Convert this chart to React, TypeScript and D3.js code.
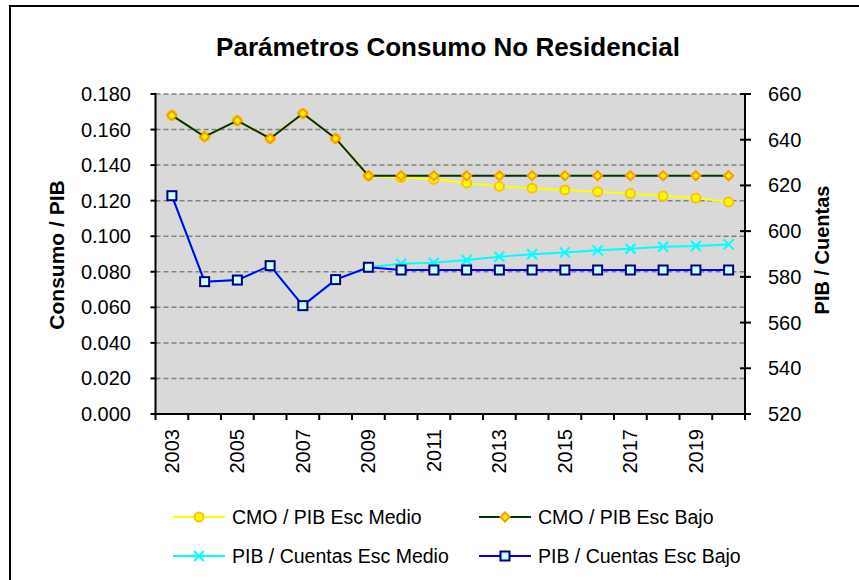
import { useEffect, useRef } from 'react';
import * as d3 from 'd3';

const years = [
  '2003', '2004', '2005', '2006', '2007', '2008', '2009', '2010', '2011',
  '2012', '2013', '2014', '2015', '2016', '2017', '2018', '2019', '2020',
];

// left axis (Consumo / PIB)
const cmoMedio = [
  0.168, 0.156, 0.165, 0.155, 0.169, 0.155, 0.134, 0.133, 0.132,
  0.130, 0.128, 0.127, 0.126, 0.125, 0.124, 0.1226, 0.1215, 0.1193,
];
const cmoBajo = [
  0.168, 0.156, 0.165, 0.155, 0.169, 0.155, 0.134, 0.134, 0.134,
  0.134, 0.134, 0.134, 0.134, 0.134, 0.134, 0.134, 0.134, 0.134,
];

// right axis (PIB / Cuentas)
const cuentasMedio = [
  615.5, 577.9, 578.6, 584.9, 567.4, 578.8, 584.2, 585.7, 586.2,
  587.4, 588.8, 589.9, 590.7, 591.6, 592.3, 593.2, 593.5, 594.2,
];
const cuentasBajo = [
  615.5, 577.9, 578.6, 584.9, 567.4, 578.8, 584.2, 583.0, 583.0,
  583.0, 583.0, 583.0, 583.0, 583.0, 583.0, 583.0, 583.0, 583.0,
];

const leftTicks = [0, 0.02, 0.04, 0.06, 0.08, 0.1, 0.12, 0.14, 0.16, 0.18];
const rightTicks = [520, 540, 560, 580, 600, 620, 640, 660];
const yearLabels = ['2003', '2005', '2007', '2009', '2011', '2013', '2015', '2017', '2019'];

const W = 859;
const H = 580;
const plot = { left: 155.5, right: 745, top: 94, bottom: 414 };
const FONT = '"Liberation Sans", Arial, sans-serif';

type Marker = 'circle' | 'diamond' | 'x' | 'square';

export default function App() {
  const svgRef = useRef<SVGSVGElement>(null);

  useEffect(() => {
    if (!svgRef.current) return;
    const svg = d3.select(svgRef.current);
    svg.selectAll('*').remove();

    // chart frame
    svg.append('rect')
      .attr('x', 10).attr('y', 6)
      .attr('width', W + 20).attr('height', H + 20)
      .attr('fill', '#fff').attr('stroke', '#000').attr('stroke-width', 2);

    const x = d3.scaleBand().domain(years).range([plot.left, plot.right]);
    const yL = d3.scaleLinear().domain([0, 0.18]).range([plot.bottom, plot.top]);
    const yR = d3.scaleLinear().domain([520, 660]).range([plot.bottom, plot.top]);
    const cx = (d: string) => (x(d) ?? 0) + x.bandwidth() / 2;

    // plot background
    svg.append('rect')
      .attr('x', plot.left).attr('y', plot.top)
      .attr('width', plot.right - plot.left).attr('height', plot.bottom - plot.top)
      .attr('fill', '#d9d9d9');

    // gridlines
    svg.append('g').selectAll('line')
      .data(leftTicks.filter((t) => t > 0))
      .join('line')
      .attr('x1', plot.left).attr('x2', plot.right)
      .attr('y1', (d) => yL(d)).attr('y2', (d) => yL(d))
      .attr('stroke', '#808080').attr('stroke-width', 1.5)
      .attr('stroke-dasharray', '5,3');

    // title
    svg.append('text')
      .attr('x', 448).attr('y', 56)
      .attr('text-anchor', 'middle')
      .attr('font-family', FONT).attr('font-weight', 'bold').attr('font-size', 26)
      .text('Parámetros Consumo No Residencial');

    const axes = svg.append('g').attr('stroke', '#000').attr('stroke-width', 2);
    // left axis
    axes.append('line')
      .attr('x1', plot.left).attr('x2', plot.left)
      .attr('y1', plot.top).attr('y2', plot.bottom);
    axes.selectAll('.tl').data(leftTicks).join('line')
      .attr('x1', plot.left - 5).attr('x2', plot.left + 1)
      .attr('y1', (d) => yL(d)).attr('y2', (d) => yL(d));
    // right axis
    axes.append('line')
      .attr('x1', plot.right).attr('x2', plot.right)
      .attr('y1', plot.top).attr('y2', plot.bottom);
    axes.selectAll('.tr').data(rightTicks).join('line')
      .attr('x1', plot.right - 5).attr('x2', plot.right + 6)
      .attr('y1', (d) => yR(d)).attr('y2', (d) => yR(d));
    // bottom axis
    axes.append('line')
      .attr('x1', plot.left).attr('x2', plot.right)
      .attr('y1', plot.bottom).attr('y2', plot.bottom);
    axes.selectAll('.tb').data(d3.range(years.length + 1)).join('line')
      .attr('x1', (i) => plot.left + i * x.step()).attr('x2', (i) => plot.left + i * x.step())
      .attr('y1', plot.bottom).attr('y2', plot.bottom + 6);

    const labels = svg.append('g')
      .attr('font-family', FONT).attr('font-size', 20).attr('fill', '#000');
    labels.selectAll('.ll').data(leftTicks).join('text')
      .attr('x', 131).attr('y', (d) => yL(d) + 7)
      .attr('text-anchor', 'end')
      .text((d) => d3.format('.3f')(d));
    labels.selectAll('.rl').data(rightTicks).join('text')
      .attr('x', 768).attr('y', (d) => yR(d) + 7)
      .text((d) => String(d));
    labels.selectAll('.xl').data(yearLabels).join('text')
      .attr('transform', (d) => `translate(${cx(d) + 7},${plot.bottom + 15}) rotate(-90)`)
      .attr('text-anchor', 'end')
      .text((d) => d);

    // axis titles
    svg.append('text')
      .attr('transform', `translate(64,255) rotate(-90)`)
      .attr('text-anchor', 'middle')
      .attr('font-family', FONT).attr('font-weight', 'bold').attr('font-size', 21)
      .text('Consumo / PIB');
    svg.append('text')
      .attr('transform', `translate(829,250) rotate(-90)`)
      .attr('text-anchor', 'middle')
      .attr('font-family', FONT).attr('font-weight', 'bold').attr('font-size', 20)
      .text('PIB / Cuentas');

    const drawMarker = (
      g: d3.Selection<SVGGElement, unknown, null, undefined>,
      kind: Marker, px: number, py: number,
    ) => {
      if (kind === 'circle') {
        g.append('circle').attr('cx', px).attr('cy', py).attr('r', 4.5)
          .attr('fill', '#ffff00').attr('stroke', '#ffc000').attr('stroke-width', 2);
      } else if (kind === 'diamond') {
        const s = 4.5;
        g.append('path')
          .attr('d', `M${px},${py - s}L${px + s},${py}L${px},${py + s}L${px - s},${py}Z`)
          .attr('fill', '#ffff00').attr('stroke', '#ff9900').attr('stroke-width', 2);
      } else if (kind === 'x') {
        const s = 5;
        g.append('path')
          .attr('d', `M${px - s},${py - s}L${px + s},${py + s}M${px - s},${py + s}L${px + s},${py - s}`)
          .attr('stroke', '#00ffff').attr('stroke-width', 2).attr('fill', 'none');
      } else {
        const s = 4.5;
        g.append('rect').attr('x', px - s).attr('y', py - s)
          .attr('width', 2 * s).attr('height', 2 * s)
          .attr('fill', '#ccffff').attr('stroke', '#000080').attr('stroke-width', 2);
      }
    };

    const series: { name: string; values: number[]; scale: d3.ScaleLinear<number, number>; color: string; marker: Marker }[] = [
      { name: 'CMO / PIB Esc Medio', values: cmoMedio, scale: yL, color: '#ffff00', marker: 'circle' },
      { name: 'CMO / PIB Esc Bajo', values: cmoBajo, scale: yL, color: '#003300', marker: 'diamond' },
      { name: 'PIB / Cuentas Esc Medio', values: cuentasMedio, scale: yR, color: '#00ffff', marker: 'x' },
      { name: 'PIB / Cuentas Esc Bajo', values: cuentasBajo, scale: yR, color: '#0000ff', marker: 'square' },
    ];

    series.forEach((s) => {
      const g = svg.append('g');
      const line = d3.line<number>()
        .x((_, i) => cx(years[i]))
        .y((d) => s.scale(d));
      g.append('path').attr('d', line(s.values) ?? '')
        .attr('fill', 'none').attr('stroke', s.color).attr('stroke-width', 2);
      s.values.forEach((v, i) => drawMarker(g, s.marker, cx(years[i]), s.scale(v)));
    });

    // legend
    const legendPos = [
      { lx: 173, ty: 517 }, { lx: 479, ty: 517 },
      { lx: 173, ty: 556 }, { lx: 479, ty: 556 },
    ];
    series.forEach((s, i) => {
      const p = legendPos[i];
      const g = svg.append('g');
      g.append('line')
        .attr('x1', p.lx).attr('x2', p.lx + 52)
        .attr('y1', p.ty).attr('y2', p.ty)
        .attr('stroke', s.color).attr('stroke-width', 2);
      drawMarker(g, s.marker, p.lx + 26, p.ty);
      g.append('text')
        .attr('x', p.lx + 59).attr('y', p.ty + 7)
        .attr('font-family', FONT).attr('font-size', 19.5)
        .text(s.name);
    });
  }, []);

  return (
    <svg
      ref={svgRef}
      width={W}
      height={H}
      style={{ position: 'absolute', left: 0, top: 0, display: 'block' }}
    />
  );
}
